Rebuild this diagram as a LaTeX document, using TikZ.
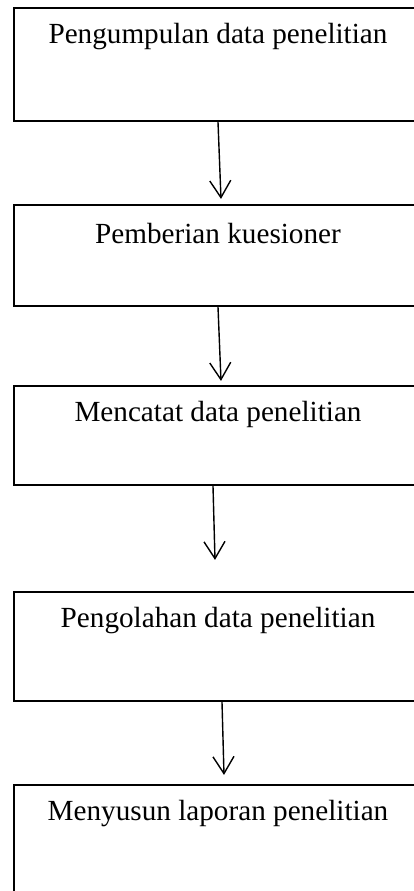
\documentclass[tikz,border=0pt]{standalone}
\usepackage{fontspec}
\setmainfont{Liberation Serif}
\usetikzlibrary{arrows.meta}
\tikzset{
  box/.style={draw=black, line width=2.2pt, rectangle, minimum width=408pt, inner sep=0pt},
  lbl/.style={font=\fontsize{29.2}{34}\selectfont, inner sep=0pt, anchor=center},
  arr/.style={line width=1.4pt, -{Straight Barb[length=17pt,width=21pt,line width=1.4pt]}}
}
\begin{document}
\begin{tikzpicture}[x=1pt,y=-1pt]
\useasboundingbox (0,0) rectangle (414,891);
\clip (0,0) rectangle (414,891);
\fill[white] (0,0) rectangle (414,891);
\node[box, minimum height=113pt] (b1) at (218,64.5) {};
\node[box, minimum height=101pt] (b2) at (218,255.5) {};
\node[box, minimum height=99pt]  (b3) at (218,435.5) {};
\node[box, minimum height=109pt] (b4) at (218,646.5) {};
\node[box, minimum height=115pt] (b5) at (218,842.5) {};
\node[lbl] (t1) at ([yshift=-30pt]b1.north) {Pengumpulan data penelitian};
\node[lbl] (t2) at ([yshift=-30pt]b2.north) {Pemberian kuesioner};
\node[lbl] (t3) at ([yshift=-30pt]b3.north) {Mencatat data penelitian};
\node[lbl] (t4) at ([yshift=-30pt]b4.north) {Pengolahan data penelitian};
\node[lbl] (t5) at ([yshift=-30pt]b5.north) {Menyusun laporan penelitian};
\draw[arr] (b1.south) -- ([xshift=3pt,yshift=5pt]b2.north);
\draw[arr] (b2.south) -- ([xshift=3pt,yshift=4pt]b3.north);
\draw[arr] ([xshift=-5pt]b3.south) -- ([xshift=-3pt,yshift=31pt]b4.north);
\draw[arr] ([xshift=4pt]b4.south) -- ([xshift=6pt,yshift=9pt]b5.north);
\end{tikzpicture}
\end{document}
